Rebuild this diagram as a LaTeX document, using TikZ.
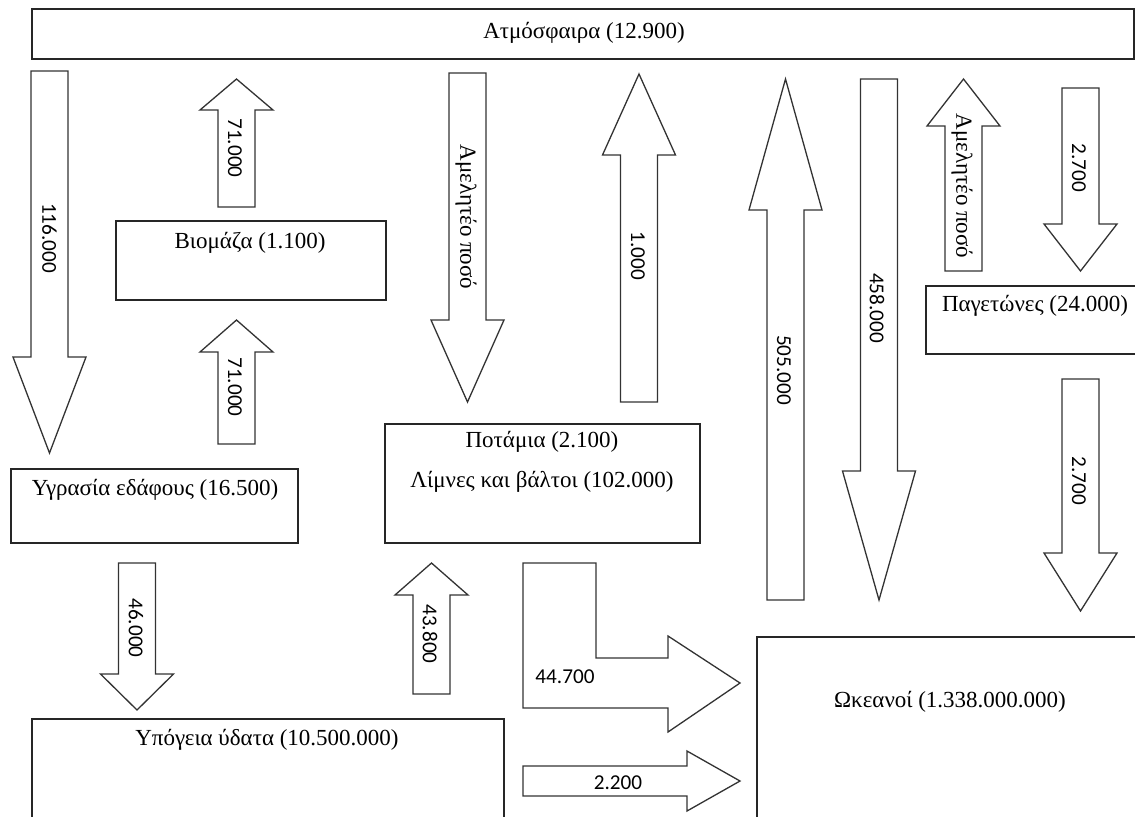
\documentclass[tikz,border=0pt]{standalone}
\usepackage{fontspec}
\setmainfont{Liberation Serif}
\newfontfamily\numfont{Carlito}
\usetikzlibrary{positioning}
% vertical block arrow: x centre, tail y, head base y, tip y
\newcommand{\flowarrow}[4]{%
  \draw[blk] (#1-18.5,#2) -- (#1+18.5,#2) -- (#1+18.5,#3) -- (#1+36.5,#3)
    -- (#1,#4) -- (#1-36.5,#3) -- (#1-18.5,#3) -- cycle;}

\begin{document}
\begin{tikzpicture}[
    x=0.5pt, y=-0.5pt,
    blk/.style={draw=black!80, line width=0.65pt, fill=white},
    box/.style={draw=black!85, line width=0.65pt},
    boxtext/.style={font=\fontsize{11.5}{13.5}\selectfont, inner sep=0pt},
    num/.style={font=\numfont\fontsize{10.6}{12}\selectfont, inner sep=0pt},
    vnum/.style={num, rotate=-90},
    vtext/.style={boxtext, rotate=-90}
]
\fill[white] (0,0) rectangle (1135,816);
\useasboundingbox (0,0) rectangle (1135,816);

% reservoirs
\draw[box] (32,9) rectangle (1134,59);
\node[boxtext] (atm) at (584,33) {Ατμόσφαιρα (12.900)};
\draw[box] (116,221) rectangle (386,300);
\node[boxtext] (bio) at (250,243) {Βιομάζα (1.100)};
\draw[box] (11,469) rectangle (298,543);
\node[boxtext] (soil) at (155,490) {Υγρασία εδάφους (16.500)};
\draw[box] (385,424) rectangle (700,543);
\node[boxtext] (riv) at (542,442) {Ποτάμια (2.100)};
\node[boxtext, below=9pt of riv] (lake) {Λίμνες και βάλτοι (102.000)};
\draw[box] (32,719) rectangle (504,840);
\node[boxtext] (gw) at (267,740) {Υπόγεια ύδατα (10.500.000)};
\draw[box] (926,286) rectangle (1145,354);
\node[boxtext] (ice) at (1035,306) {Παγετώνες (24.000)};
\draw[box] (757,637) rectangle (1145,840);
\node[boxtext] (ocean) at (950,702) {Ωκεανοί (1.338.000.000)};

% fluxes
\flowarrow{49.5}{71}{357}{453}
\node[vnum] (f1) at (49.5,238) {116.000};
\flowarrow{236.5}{207}{110}{79}
\node[vnum] (f2) at (235,148) {71.000};
\flowarrow{236.5}{444}{352}{320}
\node[vnum] (f3) at (235,387) {71.000};
\flowarrow{137}{563}{674}{710}
\node[vnum] (f4) at (136,628) {46.000};
\flowarrow{431.5}{694}{595}{563}
\node[vnum] (f5) at (430,634) {43.800};
\flowarrow{467.5}{73}{320}{402}
\node[vtext] (f6) at (466,217) {Αμελητέο ποσό};
\flowarrow{639}{402}{155}{74}
\node[vnum] (f7) at (638,256) {1.000};
\flowarrow{785.5}{600}{210}{79}
\node[vnum] (f8) at (784,370) {505.000};
\flowarrow{879}{79}{471}{600}
\node[vnum] (f9) at (877,308) {458.000};
\flowarrow{963.5}{271}{126}{79}
\node[vtext] (f10) at (962,186) {Αμελητέο ποσό};
\flowarrow{1080.5}{88}{224}{271}
\node[vnum] (f11) at (1079,168) {2.700};
\flowarrow{1080.5}{379}{553}{611}
\node[vnum] (f12) at (1079,481) {2.700};

\draw[blk] (523,563) -- (596,563) -- (596,658) -- (668,658) -- (668,636)
  -- (740,683) -- (668,732) -- (668,708) -- (523,708) -- cycle;
\node[num] (f13) at (565,677) {44.700};
\draw[blk] (523,766) -- (687,766) -- (687,751) -- (740,781) -- (687,811)
  -- (687,796) -- (523,796) -- cycle;
\node[num] (f14) at (618,783) {2.200};
\end{tikzpicture}
\end{document}
